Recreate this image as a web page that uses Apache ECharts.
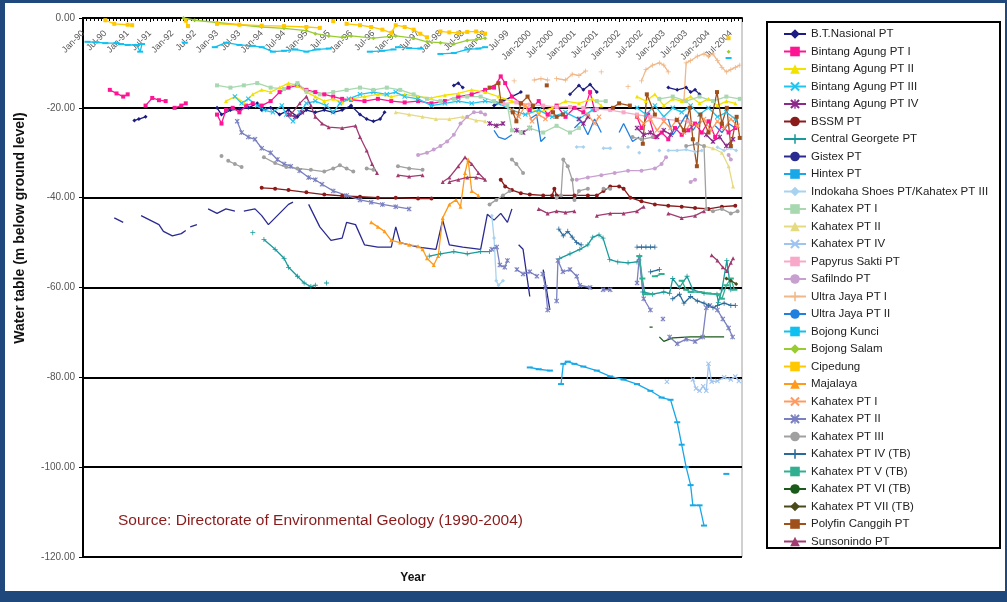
<!DOCTYPE html>
<html><head><meta charset="utf-8">
<script src="https://cdn.jsdelivr.net/npm/echarts@6/dist/echarts.min.js"></script>
<style>html,body{margin:0;padding:0;background:#1f497d;}#c{width:1007px;height:602px;}</style>
</head><body><div id="c"></div>
<script>
const tickLabels = ['Jan-90','Jul-90','Jan-91','Jul-91','Jan-92','Jul-92','Jan-93','Jul-93','Jan-94','Jul-94','Jan-95','Jul-95','Jan-96','Jul-96','Jan-97','Jul-97','Jan-98','Jul-98','Jan-99','Jul-99','Jan-2000','Jul-2000','Jan-2001','Jul-2001','Jan-2002','Jul-2002','Jan-2003','Jul-2003','Jan-2004','Jul-2004'];

const seriesNames = ['B.T.Nasional PT','Bintang Agung PT I','Bintang Agung PT II','Bintang Agung PT III','Bintang Agung PT IV','BSSM PT','Central Georgete PT','Gistex PT','Hintex PT','Indokaha Shoes PT/Kahatex PT III','Kahatex PT I','Kahatex PT II','Kahatex PT IV','Papyrus Sakti PT','Safilndo PT','Ultra Jaya PT I','Ultra Jaya PT II','Bojong Kunci','Bojong Salam','Cipedung','Majalaya','Kahatex PT I ','Kahatex PT II ','Kahatex PT III','Kahatex PT IV (TB)','Kahatex PT V (TB)','Kahatex PT VI (TB)','Kahatex PT VII (TB)','Polyfin Canggih PT','Sunsonindo PT'];

const seriesColors = ['#1c1c82','#ff1493','#f2e200','#22c4f0','#8c2a8c','#8b1a1a','#1a9a9a','#2a2a90','#18a8e8','#a8d2f0','#a8d8b0','#e6da80','#a0c4f0','#f8a8c8','#c8a0d0','#f0b888','#2080e0','#10c0f0','#99cc33','#ffc800','#ff9a1a','#ff9a60','#7a80c0','#a0a0a0','#2a6a9a','#30b090','#1a5a1a','#4a4a1a','#a0501a','#a03a70'];

const seriesMarkers = ['diamond','rect','triangle','x','star','circle','plus','none','dash','diamond','rect','triangle','x','rect','circle','plus','none','dash','diamond','rect','triangle','x','star','circle','plus','dash','none','diamond','rect','triangle'];

const btNasional = [[1991.15,-22.8],[1991.25,-22.5],[1991.4,-22.0],null,[1993.0,-20.0],[1993.1,-21.5],[1993.3,-20.5],[1993.5,-20.3],[1993.7,-20.0],[1993.9,-19.0],[1994.0,-20.5],[1994.2,-20.0],[1994.4,-21.5],[1994.6,-20.5],[1994.8,-22.0],[1995.0,-20.5],[1995.2,-21.0],[1995.4,-20.5],[1995.6,-21.0],[1995.8,-20.5],[1996.0,-19.5],[1996.2,-21.5],[1996.35,-22.5],[1996.5,-23.0],[1996.65,-22.5],[1996.75,-21.0],null,[1998.3,-15.0],[1998.4,-14.5],[1998.5,-15.5],null,[1999.2,-19.5],[1999.4,-18.5],[1999.6,-17.5],[1999.8,-16.5],null,[2000.9,-17.0],[2001.1,-15.0],[2001.2,-16.0],[2001.35,-14.8],[2001.5,-16.5],null,[2003.1,-15.5],[2003.3,-16.0],[2003.5,-15.5],[2003.6,-16.5],[2003.7,-16.0],[2003.8,-17.0]];
const bintangAgung1 = [[1990.6,-16.0],[1990.75,-16.8],[1990.9,-17.5],[1991.0,-17.0],null,[1991.4,-19.5],[1991.55,-17.8],[1991.7,-18.3],[1991.85,-18.5],null,[1992.05,-20.0],[1992.2,-19.5],[1992.3,-19.0],null,[1993.0,-21.5],[1993.1,-23.5],[1993.2,-20.5],[1993.35,-20.0],[1993.5,-21.0],[1993.65,-19.5],[1993.8,-19.0],[1994.0,-19.5],[1994.2,-18.5],[1994.4,-16.5],[1994.6,-15.5],[1994.8,-15.0],[1995.0,-16.0],[1995.2,-16.5],[1995.4,-17.0],[1995.6,-17.5],[1995.8,-18.0],[1996.0,-18.2],[1996.3,-18.5],[1996.6,-18.0],[1996.9,-18.5],[1997.2,-18.8],[1997.5,-18.5],[1997.8,-19.0],[1998.1,-18.5],[1998.4,-17.5],[1998.7,-17.0],[1999.0,-16.0],[1999.2,-15.5],[1999.35,-13.0],[1999.45,-14.5],[1999.6,-17.5],[1999.8,-19.0],[2000.0,-20.5],[2000.2,-18.5],[2000.4,-21.5],[2000.6,-19.5],[2000.8,-22.0],[2001.0,-20.0],[2001.2,-21.0],[2001.35,-16.5],[2001.45,-20.5],null,[2002.4,-22.0],[2002.5,-24.5],[2002.65,-21.5],[2002.8,-26.5],[2002.95,-25.5],[2003.1,-27.0],[2003.25,-24.5],[2003.4,-26.0],[2003.55,-25.0],[2003.7,-23.5],[2003.85,-25.5],[2004.0,-23.0],[2004.15,-26.5],[2004.3,-24.0],[2004.45,-25.5],[2004.6,-24.5]];
const bintangAgung2 = [[1993.2,-18.5],[1993.4,-17.5],[1993.6,-18.8],[1993.8,-17.0],[1994.0,-16.0],[1994.2,-16.5],[1994.4,-15.5],[1994.6,-14.5],[1994.8,-15.0],[1995.0,-16.5],[1995.2,-17.5],[1995.4,-18.5],[1995.6,-18.0],[1995.8,-18.8],[1996.0,-18.0],[1996.3,-17.5],[1996.6,-17.0],[1996.9,-17.5],[1997.2,-17.0],[1997.5,-17.5],[1997.8,-17.8],[1998.1,-17.2],[1998.4,-16.8],[1998.7,-16.0],[1999.0,-16.5],[1999.3,-17.5],[1999.6,-18.5],[1999.9,-19.5],[2000.2,-21.0],[2000.5,-20.0],[2000.8,-18.5],[2001.1,-19.0],[2001.4,-18.0],[2001.6,-19.5],null,[2002.4,-17.5],[2002.6,-18.5],[2002.8,-17.0],[2003.0,-19.5],[2003.2,-18.0],[2003.4,-18.5],[2003.6,-17.5],[2003.8,-19.0],[2004.0,-18.0],[2004.2,-19.5],[2004.4,-18.5],[2004.6,-19.0]];
const bintangAgung3 = [[1993.4,-17.5],[1993.55,-19.0],[1993.7,-18.0],[1993.9,-19.5],[1994.05,-20.5],[1994.25,-21.0],[1994.45,-19.5],[1994.55,-21.5],[1994.7,-23.0],[1994.85,-21.0],[1995.0,-19.0],[1995.2,-18.5],[1995.45,-19.5],[1995.6,-21.0],[1995.75,-19.0],[1995.95,-18.0],[1996.2,-17.0],[1996.5,-16.5],[1996.8,-17.0],[1997.0,-16.5],[1997.2,-17.5],[1997.5,-18.0],[1997.8,-19.5],[1998.1,-19.0],[1998.4,-18.5],[1998.7,-19.0],[1999.0,-18.5],[1999.3,-19.0],[1999.6,-20.5],[1999.9,-21.5],[2000.2,-20.5],[2000.5,-22.0],[2000.8,-21.0],[2001.1,-22.5],[2001.4,-20.5],null,[2002.4,-20.0],[2002.6,-21.5],[2002.8,-19.5],[2003.0,-22.0],[2003.2,-20.0],[2003.4,-21.0],[2003.6,-19.5],[2003.8,-21.5],[2004.0,-20.0],[2004.2,-22.0],[2004.4,-21.0],[2004.6,-22.5]];
const bintangAgung4 = [[1994.6,-21.5],[1994.75,-22.0],[1994.9,-21.0],null,[1999.1,-23.5],[1999.25,-24.0],[1999.4,-23.5],null,[1999.7,-25.0],[1999.85,-25.5],[2000.0,-24.5],null,[2001.1,-22.5],[2001.2,-23.5],[2001.3,-22.0],null,[2002.4,-24.5],[2002.55,-26.0],[2002.7,-25.5],[2002.85,-26.5],[2003.0,-25.0],[2003.15,-26.0],null,[2003.95,-26.0],[2004.1,-27.5],[2004.25,-26.5],[2004.4,-28.5],[2004.55,-27.0]];
const bssm = [[1994.0,-37.8],[1994.3,-38.0],[1994.6,-38.3],[1995.0,-38.8],[1995.4,-39.3],[1995.8,-39.6],[1996.2,-39.8],[1996.6,-40.0],[1997.0,-40.0],[1997.5,-40.2],[1997.8,-40.2],null,[1999.35,-36.0],[1999.45,-37.5],[1999.6,-38.3],[1999.8,-39.0],[2000.0,-39.3],[2000.3,-39.5],[2000.5,-39.5],[2000.55,-38.0],[2000.6,-39.5],[2001.0,-39.5],[2001.3,-39.5],[2001.5,-39.5],[2001.65,-38.5],[2001.8,-37.5],[2002.0,-37.5],[2002.1,-38.0],[2002.25,-40.0],[2002.5,-40.8],[2002.8,-41.5],[2003.1,-41.8],[2003.4,-42.0],[2003.7,-42.3],[2004.0,-42.5],[2004.3,-42.0],[2004.6,-41.8]];
const centralGeorgete = [[1993.8,-47.8],null,[1994.05,-49.3],[1994.3,-51.5],[1994.5,-53.5],[1994.6,-55.5],[1994.8,-57.5],[1994.95,-59.0],[1995.1,-59.8],[1995.2,-59.5],null,[1995.45,-59.0],null,[1997.75,-53.0],[1998.0,-52.5],[1998.3,-52.0],[1998.6,-52.5],[1998.9,-52.0],[1999.1,-52.0],null,[2000.67,-53.5],[2000.9,-52.5],[2001.12,-51.5],[2001.3,-50.5],[2001.41,-48.8],[2001.55,-48.3],[2001.64,-49.0],[2001.79,-53.8],[2001.97,-54.3],[2002.2,-54.5],[2002.4,-54.3],[2002.46,-53.0],[2002.53,-61.0],[2002.75,-61.5],[2003.0,-61.0],[2003.13,-61.3],[2003.2,-58.0],[2003.35,-60.0],[2003.52,-57.5],[2003.65,-60.5],[2003.9,-61.3],[2004.19,-61.5],[2004.22,-63.3],[2004.3,-60.5],[2004.41,-54.0],[2004.5,-60.5]];
const gistex = [[1990.7,-44.5],[1990.9,-45.5],null,[1991.3,-44.0],[1991.5,-45.0],[1991.7,-46.0],[1991.8,-47.5],[1992.0,-48.5],[1992.2,-48.0],[1992.3,-47.3],null,[1992.4,-46.5],[1992.55,-46.0],null,[1992.8,-42.5],[1993.0,-43.5],[1993.2,-42.5],[1993.4,-43.0],null,[1993.6,-43.0],[1993.85,-42.5],[1994.0,-44.0],[1994.15,-46.0],[1994.4,-43.5],[1994.6,-41.5],[1994.7,-41.0],null,[1995.05,-41.5],[1995.3,-46.5],[1995.55,-49.5],[1995.8,-49.0],[1995.9,-45.5],[1996.1,-46.0],[1996.3,-50.5],[1996.6,-51.0],[1996.9,-51.0],[1997.0,-46.5],[1997.1,-50.0],[1997.5,-51.0],[1997.9,-51.5],[1998.05,-45.0],[1998.2,-50.5],[1998.5,-51.0],[1998.9,-51.5],[1999.05,-43.7],[1999.2,-45.0],[1999.35,-43.5],[1999.5,-45.5],[1999.6,-42.5],null,[1999.75,-50.5],[1999.85,-51.5],[2000.0,-62.0],null,[2000.3,-56.0],[2000.45,-65.0]];
const hintex = [[2000.0,-77.8],[2000.2,-78.2],[2000.45,-78.5],null,[2000.7,-81.5],[2000.75,-77.0],[2000.85,-76.5],[2001.0,-77.0],[2001.2,-77.6],[2001.5,-78.5],[2001.8,-79.8],[2002.1,-80.5],[2002.4,-81.5],[2002.7,-83.0],[2002.95,-84.5],[2003.15,-85.0],[2003.3,-90.0],[2003.4,-95.0],[2003.5,-100.0],[2003.6,-104.0],[2003.65,-108.5],[2003.8,-108.5],[2003.9,-113.0],null,[2004.4,-101.5]];
const indokaha = [[1999.15,-44.0],[1999.2,-49.0],[1999.25,-58.5],[1999.3,-59.5],[1999.4,-58.5],null,[2001.05,-28.7],[2001.2,-28.7],null,[2001.65,-29.0],[2001.8,-29.0],null,[2002.2,-28.7],null,[2002.45,-30.0],null,[2002.9,-29.5],null,[2003.1,-29.5],[2003.3,-29.5],[2003.5,-29.3],[2003.7,-29.8],[2003.85,-29.5],null,[2004.2,-28.8],[2004.35,-29.5],[2004.5,-29.0],[2004.62,-29.5]];
const kahatex1 = [[1993.0,-15.0],[1993.3,-15.5],[1993.6,-15.0],[1993.9,-14.5],[1994.2,-15.5],[1994.5,-15.8],[1994.8,-14.5],[1995.0,-16.2],[1995.3,-17.0],[1995.6,-16.5],[1995.9,-16.0],[1996.2,-15.5],[1996.5,-16.0],[1996.8,-15.5],[1997.1,-16.0],[1997.4,-17.0],[1997.7,-18.0],[1998.0,-18.5],[1998.3,-18.0],[1998.6,-17.5],[1998.9,-17.5],[1999.2,-18.5],[1999.5,-19.5],[1999.6,-25.0],[1999.8,-25.5],[2000.0,-24.5],[2000.3,-25.5],[2000.6,-24.0],[2000.9,-25.5],[2001.1,-24.5],null,[2001.5,-18.5],[2001.7,-18.5],null,[2002.9,-18.0],[2003.2,-17.5],[2003.5,-18.5],[2003.8,-17.5],[2004.1,-18.5],[2004.4,-17.5],[2004.7,-18.0]];
const kahatex2 = [[1997.0,-21.0],[1997.3,-21.5],[1997.6,-22.0],[1997.9,-22.5],[1998.2,-22.5],[1998.5,-22.0],[1998.8,-22.8],[1999.0,-23.0],null,[2003.9,-28.5],[2004.1,-29.0],[2004.3,-30.0],[2004.45,-33.0],[2004.55,-37.5]];
const kahatex4 = [[2003.07,-81.0],null,[2003.65,-80.5],[2003.72,-82.5],[2003.8,-83.0],[2003.88,-82.0],[2003.95,-83.0],[2004.0,-77.0],[2004.07,-81.0],[2004.2,-80.8],[2004.35,-80.0],[2004.5,-80.5],[2004.6,-79.8],[2004.68,-80.8]];
const papyrusSakti = [[1999.4,-19.0],[1999.7,-18.8],[2000.0,-19.3],[2000.3,-19.5],[2000.6,-19.8],[2000.9,-19.8],[2001.2,-20.0],[2001.5,-20.3],[2001.8,-20.5],[2002.1,-21.0],[2002.4,-21.5],[2002.7,-22.0],[2003.0,-22.5],[2003.3,-22.8],[2003.55,-23.0]];
const safilndo = [[1997.5,-30.5],[1997.7,-30.0],[1997.85,-29.3],[1998.0,-28.5],[1998.15,-27.5],[1998.3,-26.0],[1998.45,-23.5],[1998.6,-22.0],[1998.75,-21.0],[1998.9,-21.0],[1999.0,-21.5],null,[2001.05,-36.0],[2001.3,-35.5],[2001.6,-35.0],[2001.9,-34.5],[2002.2,-34.0],[2002.5,-34.0],[2002.8,-33.5],[2002.95,-32.5],[2003.05,-31.0],null,[2003.6,-36.5],[2003.7,-36.0],null,[2004.45,-30.5],[2004.5,-31.5]];
const ultraJaya1 = [[1999.65,-14.0],null,[2000.1,-13.8],[2000.25,-13.5],[2000.4,-13.8],null,[2000.6,-13.5],[2000.8,-13.8],[2000.95,-12.5],[2001.1,-12.8],[2001.25,-11.8],null,[2001.6,-12.0],null,[2002.2,-15.3],null,[2002.5,-14.0],[2002.6,-11.5],[2002.75,-10.5],[2002.9,-10.0],[2003.0,-10.5],[2003.1,-12.0],null,[2003.45,-18.5],[2003.5,-10.0],[2003.6,-9.5],[2003.75,-8.5],[2003.9,-8.0],[2004.0,-8.5],[2004.1,-8.0],[2004.2,-9.5],[2004.3,-11.0],[2004.4,-12.0],[2004.5,-11.5],[2004.6,-11.0],[2004.7,-10.5]];
const ultraJaya2 = [[1999.2,-25.0],[1999.3,-26.5],[1999.45,-27.0],[1999.6,-26.0],null,[2000.0,-22.5],[2000.15,-21.5],[2000.25,-27.5],[2000.35,-26.5],null,[2001.0,-24.5],[2001.15,-23.0],[2001.3,-26.0],[2001.45,-22.5],[2001.6,-25.5],null,[2002.0,-25.5],[2002.1,-23.5],[2002.3,-27.5],[2002.45,-26.5],null,[2003.1,-22.5],[2003.2,-26.0],[2003.35,-24.0],[2003.5,-21.5],[2003.65,-25.0],[2003.8,-23.0],null,[2004.15,-24.0],[2004.3,-25.5],[2004.45,-23.5],[2004.6,-24.5]];
const bojongKunci = [[1990.1,-5.3],[1990.3,-5.4],[1990.5,-5.6],[1990.75,-5.6],[1990.85,-5.8],[1991.0,-6.0],[1991.2,-6.0],[1991.28,-7.5],[1991.32,-5.8],null,[1992.28,-5.5],null,[1992.95,-6.5],[1993.2,-5.5],[1993.5,-6.0],[1993.8,-6.2],[1994.0,-6.5],[1994.25,-7.5],[1994.5,-7.3],[1994.75,-7.0],[1995.0,-7.5],[1995.25,-7.0],[1995.5,-6.8],null,[1996.42,-7.5],[1996.7,-7.3],[1996.95,-7.0],null,[1997.05,-6.5],[1997.3,-6.7],[1997.55,-6.8],null,[1998.0,-8.0],[1998.3,-7.8],[1998.6,-7.0],[1998.85,-6.8],[1999.0,-6.5],null,[2004.45,-8.9]];
const bojongSalam = [[1992.25,0],[1992.5,-0.5],[1993.0,-1.0],[1993.5,-1.5],[1994.0,-2.0],[1994.5,-2.3],[1995.0,-2.8],[1995.2,-3.5],[1995.5,-4.0],[1995.8,-4.3],[1996.0,-4.0],[1996.5,-4.5],[1997.0,-4.0],[1997.4,-4.5],[1997.7,-5.3],[1998.0,-5.5],[1998.3,-5.8],[1998.6,-5.0],[1998.8,-4.8],[1999.0,-4.5],null,[2004.45,-7.5]];
const cipedung = [[1990.5,-0.5],[1990.7,-1.3],[1991.0,-1.5],[1991.1,-1.6],null,[1992.3,-0.6],[1992.35,-1.8],null,[1993.0,-1.3],[1993.5,-1.5],[1994.0,-1.7],[1994.5,-1.8],[1995.0,-2.0],[1995.3,-2.2],null,[1995.6,-0.7],null,[1995.9,-1.3],[1996.2,-1.6],[1996.45,-2.0],[1996.7,-2.6],[1996.9,-3.3],[1997.0,-1.6],[1997.2,-2.0],[1997.4,-2.6],[1997.55,-3.5],[1997.7,-4.3],null,[1998.0,-3.0],[1998.2,-3.2],[1998.4,-3.3],[1998.6,-3.1],[1998.8,-3.0],[1999.0,-3.5],null,[2004.45,-4.5]];
const majalaya = [[1996.45,-45.5],[1996.6,-46.5],[1996.75,-47.5],[1996.9,-49.5],[1997.1,-50.0],[1997.3,-50.5],[1997.5,-50.8],[1997.6,-51.5],[1997.7,-53.5],[1997.85,-55.0],[1997.95,-53.0],[1998.05,-44.5],[1998.2,-41.5],[1998.35,-40.5],[1998.45,-42.0],[1998.55,-34.5],[1998.62,-31.5],[1998.7,-38.5],[1998.85,-39.5]];
const kahatex1b = [[1999.6,-20.5],[1999.75,-22.0],[1999.9,-19.5],[2000.05,-23.0],[2000.2,-21.5],[2000.35,-22.5],[2000.5,-21.0],null,[2001.3,-21.5],[2001.45,-23.5],[2001.55,-22.0],null,[2002.4,-22.0],[2002.55,-23.5],[2002.7,-22.5],[2002.85,-25.0],[2003.0,-23.0],[2003.15,-24.5],[2003.3,-22.5],[2003.45,-25.5],[2003.6,-23.5],[2003.75,-24.0],[2003.9,-22.5],[2004.05,-25.0],[2004.2,-23.0],[2004.35,-24.5],[2004.5,-22.5],[2004.65,-24.0]];
const kahatex2b = [[1993.45,-23.0],[1993.55,-25.5],[1993.7,-26.5],[1993.85,-27.0],[1994.0,-29.0],[1994.2,-30.0],[1994.35,-31.5],[1994.5,-32.5],[1994.65,-33.0],[1994.85,-34.0],[1995.05,-35.5],[1995.2,-36.0],[1995.35,-37.0],[1995.6,-38.5],[1995.9,-39.5],[1996.2,-40.5],[1996.45,-41.0],[1996.7,-41.5],[1997.0,-42.0],[1997.3,-42.5],null,[1999.15,-51.5],[1999.26,-51.0],[1999.33,-55.0],[1999.44,-55.5],[1999.5,-54.0],null,[1999.71,-56.0],[1999.85,-57.0],[2000.0,-56.5],[2000.16,-57.5],null,[2000.29,-57.0],[2000.35,-60.0],[2000.4,-65.0],null,[2000.6,-63.0],[2000.63,-54.0],[2000.74,-56.5],[2000.9,-56.0],[2001.05,-57.5],[2001.12,-59.5],[2001.35,-60.0],null,[2001.64,-60.5],[2001.8,-60.5],null,[2002.4,-59.0],[2002.45,-53.5],[2002.55,-62.5],[2002.7,-65.0],null,[2002.98,-67.0],null,[2003.13,-71.0],[2003.3,-72.5],[2003.5,-71.5],[2003.7,-72.0],[2003.87,-71.0],[2003.95,-64.5],[2004.03,-64.0],[2004.2,-65.0],[2004.32,-67.0],[2004.45,-69.0],[2004.54,-71.0]];
const kahatex3 = [[1993.1,-30.7],null,[1993.25,-31.8],[1993.4,-32.5],[1993.55,-33.2],null,[1994.05,-31.0],[1994.3,-32.3],[1994.55,-33.2],[1994.8,-33.5],[1995.1,-33.8],[1995.4,-34.2],[1995.6,-33.5],[1995.75,-32.8],[1995.9,-33.5],[1996.05,-34.2],null,[1996.35,-33.5],[1996.5,-33.8],null,[1997.05,-33.0],[1997.3,-33.5],[1997.6,-33.8],null,[1999.1,-41.5],[1999.25,-40.5],[1999.4,-39.5],[1999.55,-38.5],null,[1999.6,-31.5],[1999.7,-32.5],[1999.85,-34.5],null,[2000.6,-40.0],[2000.7,-39.5],[2000.75,-31.5],[2000.85,-33.0],[2000.95,-36.0],[2001.0,-40.5],[2001.1,-38.5],[2001.3,-38.0],null,[2001.65,-38.0],[2001.8,-38.0],null,[2002.3,-26.5],[2002.5,-27.0],[2002.75,-26.5],null,[2003.5,-28.5],[2003.75,-28.0],[2003.9,-28.5],[2003.95,-42.5],[2004.1,-43.0],[2004.3,-42.5],[2004.5,-43.5],[2004.65,-43.0]];
const kahatex4tb = [[2000.65,-47.0],[2000.75,-48.5],[2000.85,-47.5],[2000.95,-48.8],[2001.05,-50.0],[2001.15,-50.5],null,[2002.4,-51.0],[2002.5,-51.0],[2002.6,-51.0],[2002.7,-51.0],[2002.8,-51.0],null,[2002.7,-56.5],[2002.9,-56.0],null,[2003.2,-62.5],[2003.35,-61.5],[2003.45,-63.5],[2003.6,-62.0],[2003.75,-63.0],[2003.9,-63.5],[2004.0,-64.0],[2004.1,-64.5],[2004.2,-64.0],[2004.35,-63.5],[2004.5,-64.0],[2004.6,-64.0]];
const kahatex5tb = [[2002.45,-53.0],[2002.52,-58.0],[2002.58,-61.5],[2002.7,-61.5],null,[2002.8,-57.5],[2002.95,-57.0],null,[2003.4,-58.5],[2003.5,-60.5],[2003.6,-61.0],[2003.8,-61.0],[2004.0,-61.3],[2004.2,-61.5],[2004.3,-62.5],[2004.4,-59.5],[2004.5,-58.0],[2004.58,-60.5]];
const kahatex6tb = [[2002.68,-68.8],[2002.75,-68.8],null,[2002.9,-71.0],[2003.0,-72.0],[2003.2,-71.2],[2003.6,-71.0],[2004.0,-71.0],[2004.35,-71.0]];
const kahatex7tb = [[2004.4,-58.0],[2004.5,-58.5],[2004.62,-59.2]];
const polyfin = [[1999.1,-15.5],[1999.3,-14.5],[1999.35,-18.5],null,[1999.62,-21.0],[1999.7,-23.0],[1999.8,-19.0],[1999.95,-17.5],[2000.07,-19.5],null,[2000.38,-15.0],null,[2000.52,-21.0],[2000.6,-22.0],[2000.74,-21.5],null,[2001.86,-20.0],[2002.0,-19.0],[2002.24,-19.5],null,[2002.53,-28.0],[2002.62,-17.0],[2002.8,-21.5],null,[2003.29,-22.7],[2003.45,-25.0],[2003.58,-20.0],[2003.65,-27.0],[2003.74,-33.0],[2003.82,-21.5],[2004.0,-25.5],[2004.19,-16.5],[2004.3,-23.5],[2004.41,-20.0],[2004.5,-28.5],[2004.63,-22.0],[2004.7,-26.7]];
const sunsonindo = [[1994.65,-21.5],[1994.85,-19.0],[1995.0,-17.5],[1995.1,-19.5],[1995.2,-22.0],[1995.35,-23.5],[1995.5,-24.3],[1995.8,-24.5],[1996.1,-24.0],[1996.2,-26.5],[1996.35,-29.5],[1996.47,-32.5],[1996.58,-34.5],null,[1997.05,-35.0],[1997.3,-35.3],[1997.6,-35.0],null,[1998.05,-36.5],[1998.2,-35.5],[1998.4,-33.0],[1998.55,-31.0],[1998.7,-32.5],[1998.85,-34.5],[1999.0,-36.0],[1998.8,-35.5],[1998.6,-35.5],[1998.4,-36.0],[1998.2,-36.5],null,[2000.2,-42.5],[2000.4,-43.5],[2000.6,-43.0],[2000.8,-43.3],[2001.0,-43.0],null,[2001.5,-44.0],[2001.8,-43.5],[2002.1,-43.5],[2002.4,-43.0],[2002.55,-42.0],null,[2003.1,-43.5],[2003.4,-44.5],[2003.7,-44.0],[2003.9,-43.0],null,[2004.07,-52.8],[2004.2,-54.0],[2004.32,-55.5],[2004.41,-56.3],[2004.5,-54.5],[2004.55,-53.5]];

const seriesData = [btNasional,bintangAgung1,bintangAgung2,bintangAgung3,bintangAgung4,bssm,centralGeorgete,gistex,hintex,indokaha,kahatex1,kahatex2,kahatex4,papyrusSakti,safilndo,ultraJaya1,ultraJaya2,bojongKunci,bojongSalam,cipedung,majalaya,kahatex1b,kahatex2b,kahatex3,kahatex4tb,kahatex5tb,kahatex6tb,kahatex7tb,polyfin,sunsonindo];

const SYM = {
  x: 'path://M0,1.5L1.5,0L5,3.5L8.5,0L10,1.5L6.5,5L10,8.5L8.5,10L5,6.5L1.5,10L0,8.5L3.5,5Z',
  star: 'path://M0,1.5L1.5,0L5,3.5L8.5,0L10,1.5L6.5,5L10,8.5L8.5,10L5,6.5L1.5,10L0,8.5L3.5,5ZM4.3,0H5.7V10H4.3Z',
  plus: 'path://M4.2,0H5.8V4.2H10V5.8H5.8V10H4.2V5.8H0V4.2H4.2Z',
  dash: 'rect'
};

function toPoints(arr) {
  const out = [];
  let lastX = 1990;
  arr.forEach(p => {
    if (p === null) { out.push([lastX, null]); }
    else { out.push(p); lastX = p[0]; }
  });
  return out;
}

const series = seriesNames.map((name, i) => {
  const m = seriesMarkers[i];
  const sym = m === 'none' ? 'none' : (SYM[m] || m);
  let size = 4;
  if (m === 'dash') size = [6, 2];
  else if (m === 'x' || m === 'star' || m === 'plus') size = 5;
  return {
    name: name,
    type: 'line',
    data: toPoints(seriesData[i]),
    symbol: sym,
    symbolSize: size,
    showSymbol: m !== 'none',
    connectNulls: false,
    color: seriesColors[i],
    lineStyle: { width: 1.3, color: seriesColors[i] },
    itemStyle: { color: seriesColors[i] },
    emphasis: { disabled: true },
    animation: false
  };
});

const chart = echarts.init(document.getElementById('c'));
chart.setOption({
  backgroundColor: '#1f497d',
  animation: false,
  textStyle: { fontFamily: 'Liberation Sans, Arial, sans-serif' },
  grid: { left: 83, right: 265, top: 18, bottom: 45, show: true, borderColor: '#a0a0a0', borderWidth: 1, backgroundColor: 'transparent' },
  xAxis: {
    type: 'value', min: 1990, max: 2004.75, interval: 0.5,
    position: 'top',
    axisLine: { onZero: false, lineStyle: { color: '#000', width: 2 } },
    axisTick: { show: true, inside: true, length: 4, lineStyle: { color: '#000', width: 1 } },
    minorTick: { show: true, splitNumber: 6, length: 3, lineStyle: { color: '#000', width: 1 } },
    splitLine: { show: false },
    axisLabel: {
      inside: true, rotate: -45, fontSize: 9, color: '#555', margin: 14, hideOverlap: false,
      formatter: function (v) {
        const k = (v - 1990) * 2;
        const r = Math.round(k);
        if (Math.abs(k - r) > 1e-6) return '';
        return tickLabels[r] || '';
      }
    }
  },
  yAxis: {
    type: 'value', min: -120, max: 0, interval: 20,
    axisLine: { show: true, lineStyle: { color: '#000', width: 2 } },
    axisTick: { show: true, length: 4, lineStyle: { color: '#000' } },
    axisLabel: { fontSize: 10, color: '#555', margin: 8, formatter: v => v.toFixed(2) },
    splitLine: { show: true, lineStyle: { color: '#000', width: 2 } }
  },
  legend: {
    orient: 'vertical', left: 778, top: 23,
    itemWidth: 22, itemHeight: 12, itemGap: 5.5,
    textStyle: { fontSize: 11.5, color: '#222', fontFamily: 'Liberation Sans, Arial, sans-serif' },
    formatter: n => n.trim(),
    selectedMode: false,
    data: seriesNames
  },
  graphic: [
    { type: 'rect', z: -100, shape: { x: 5, y: 3, width: 1000, height: 588 }, style: { fill: '#ffffff' } },
    { type: 'rect', z: 1, shape: { x: 767, y: 22, width: 233, height: 526 }, style: { fill: '#ffffff', stroke: '#000', lineWidth: 2 } },
    { type: 'text', z: 10, x: 118, y: 521, style: { text: 'Source: Directorate of Environmental Geology (1990-2004)', fill: '#8b1a1a', font: '15.5px "Liberation Sans", Arial', textVerticalAlign: 'middle' } },
    { type: 'text', z: 10, x: 413, y: 578, style: { text: 'Year', fill: '#111', font: 'bold 12px "Liberation Sans", Arial', textAlign: 'center', textVerticalAlign: 'middle' } },
    { type: 'text', z: 10, x: 20, y: 228, rotation: Math.PI / 2, style: { text: 'Water table (m below ground level)', fill: '#111', font: 'bold 14px "Liberation Sans", Arial', textAlign: 'center', textVerticalAlign: 'middle' } }
  ],
  series: series
});
</script>
</body></html>
